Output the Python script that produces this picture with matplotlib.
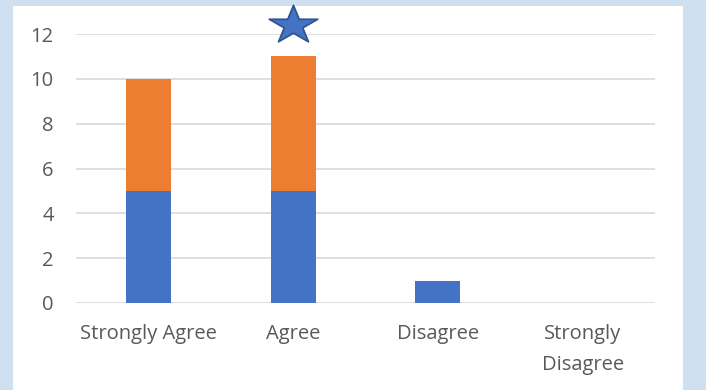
import numpy as np
import matplotlib
matplotlib.use("Agg")
import matplotlib.pyplot as plt
from matplotlib.patches import Rectangle
from matplotlib.path import Path

categories = ["Strongly Agree", "Agree", "Disagree", "Strongly\nDisagree"]
series_a = [5, 5, 1, 0]
series_b = [5, 6, 0, 0]
yticks = [0, 2, 4, 6, 8, 10, 12]

BLUE = "#4472C4"
ORANGE = "#ED7D31"
TXT = "#595959"

plt.rcParams["font.family"] = ["Open Sans", "DejaVu Sans"]

# slightly flattened five-point star marker
ang = np.pi / 2 + np.arange(10) * np.pi / 5
rad = np.where(np.arange(10) % 2 == 0, 1.0, 0.382)
star_xy = np.column_stack([rad * np.cos(ang), 0.79 * rad * np.sin(ang)])
star = Path(np.vstack([star_xy, star_xy[:1]]), closed=True)

fig = plt.figure(figsize=(7.06, 3.9), dpi=100)
fig.patch.set_facecolor("#CFE0F1")
fig.patches.append(Rectangle((13 / 706, 0), 670 / 706, 1 - 6 / 390,
                             transform=fig.transFigure, facecolor="white",
                             edgecolor="none", zorder=-5))

ax = fig.add_axes([76 / 706, 1 - 303 / 390, 579 / 706, 269 / 390])
ax.set_facecolor("none")

x = np.arange(len(categories))
w = 0.31
ax.bar(x, series_a, w, color=BLUE, zorder=3)
ax.bar(x, series_b, w, bottom=series_a, color=ORANGE, zorder=3)

# star above the tallest stack
totals = np.array(series_a) + np.array(series_b)
top = int(np.argmax(totals))
ax.plot(x[top], totals[top] + 1.39, marker=star, markersize=35,
        markerfacecolor=BLUE, markeredgecolor="#2F528F", markeredgewidth=1.2,
        clip_on=False, zorder=5)

ax.set_xlim(-0.5, len(categories) - 0.5)
ax.set_ylim(0, 12)
ax.set_yticks(yticks)
ax.set_xticks(x)
ax.set_xticklabels(categories, fontsize=14.5, color=TXT, linespacing=1.75)
ax.tick_params(axis="y", labelsize=14.5, labelcolor=TXT, length=0, pad=16)
ax.tick_params(axis="x", length=0, pad=15)
ax.yaxis.grid(True, color="#D9D9D9", linewidth=1.2, zorder=0)
for s in ax.spines.values():
    s.set_visible(False)

plt.savefig("out.png", dpi=100)
